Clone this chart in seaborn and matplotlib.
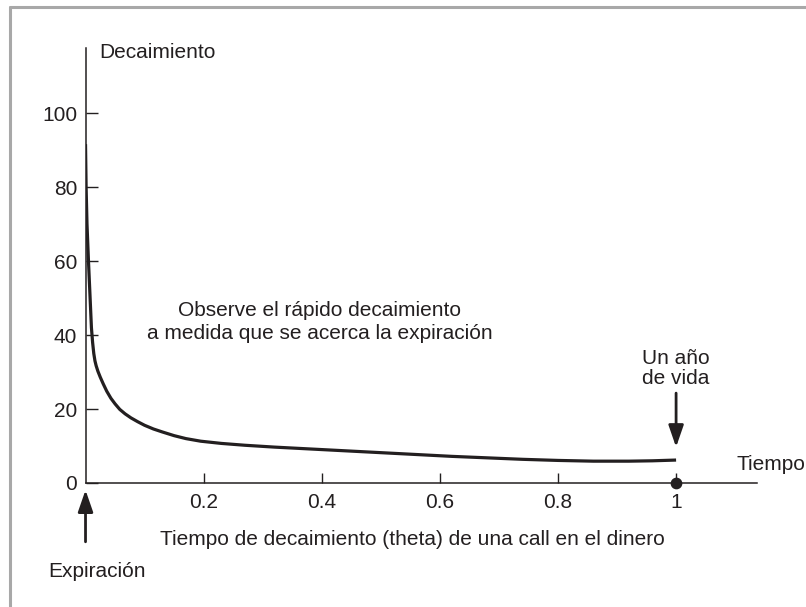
import matplotlib
matplotlib.use("Agg")
import matplotlib.pyplot as plt
import seaborn as sns
import pandas as pd

# ---- data ----
tiempo = [0.0, 0.001, 0.0025, 0.005, 0.0075, 0.01, 0.012, 0.014, 0.016,
          0.018, 0.021, 0.025, 0.03, 0.036, 0.043, 0.05, 0.058, 0.067,
          0.077, 0.088, 0.1, 0.115, 0.13, 0.15, 0.17, 0.195, 0.23, 0.27,
          0.32, 0.38, 0.44, 0.5, 0.56, 0.62, 0.68, 0.74, 0.8, 0.86, 0.92,
          0.96, 1.0]
decaimiento = [91.6, 80, 70, 60, 51, 42, 38, 35, 33,
               31.7, 30.2, 28.6, 26.8, 24.8, 22.9, 21.4, 19.9, 18.7,
               17.6, 16.6, 15.6, 14.6, 13.8, 12.8, 12.0, 11.3, 10.7, 10.2,
               9.7, 9.2, 8.7, 8.2, 7.7, 7.2, 6.8, 6.4, 6.1, 5.9, 5.9,
               6.0, 6.2]
y_ticks = [0, 20, 40, 60, 80, 100]
x_ticks = [0.2, 0.4, 0.6, 0.8, 1.0]
x_tick_labels = ["0.2", "0.4", "0.6", "0.8", "1"]
punto_x = [1.0]
punto_y = [0.0]

df = pd.DataFrame({"tiempo": tiempo, "decaimiento": decaimiento})

sns.set_theme(style="white")
plt.rcParams["font.family"] = ["Liberation Sans", "DejaVu Sans"]
INK = "#231f20"

fig = plt.figure(figsize=(8.06, 6.07), dpi=100)
ax = fig.add_axes([0.1061, 0.2043, 0.8331, 0.7166])

sns.lineplot(data=df, x="tiempo", y="decaimiento", ax=ax, color=INK,
             linewidth=2.3, sort=False)
for ln in ax.lines:
    ln.set_solid_joinstyle("round")
    ln.set_solid_capstyle("butt")
ax.scatter(punto_x, punto_y, s=55, color=INK, zorder=5, clip_on=False)

ax.set_xlim(0, 1.137)
ax.set_ylim(0, 117.6)
ax.set_xlabel("")
ax.set_ylabel("")

for s in ["top", "right"]:
    ax.spines[s].set_visible(False)
for s in ["left", "bottom"]:
    ax.spines[s].set_color(INK)
    ax.spines[s].set_linewidth(1.1)

ax.set_yticks(y_ticks)
ax.set_yticklabels([str(v) for v in y_ticks])
ax.set_xticks(x_ticks)
ax.set_xticklabels(x_tick_labels)
ax.tick_params(axis="y", direction="in", length=8.3, width=1, colors=INK,
               labelsize=15, pad=6, left=True)
ax.tick_params(axis="x", direction="in", length=7.2, width=1, colors=INK,
               labelsize=15, pad=7, bottom=True)

fs = 15
ax.text(0.0229, 116.5, "Decaimiento", fontsize=fs, color=INK,
        ha="left", va="center", clip_on=False)
ax.text(0.397, 43.5,
        "Observe el rápido decaimiento\na medida que se acerca la expiración",
        fontsize=fs, color=INK, ha="center", va="center",
        multialignment="center", linespacing=1.3)
ax.text(1.0, 31.0, "Un año\nde vida", fontsize=fs, color=INK, ha="center",
        va="center", multialignment="center", linespacing=1.1)
ax.text(1.103, 4.9, "Tiempo", fontsize=fs, color=INK, ha="left",
        va="center", clip_on=False)
ax.text(0.553, -15.2, "Tiempo de decaimiento (theta) de una call en el dinero",
        fontsize=fs, color=INK, ha="center", va="center", clip_on=False)
ax.text(-0.0635, -24.0, "Expiración", fontsize=fs, color=INK, ha="left",
        va="center", clip_on=False)

arrow = dict(arrowstyle="-|>,head_length=1.1,head_width=0.38", color=INK,
             lw=2, shrinkA=0, shrinkB=0)
ax.annotate("", xy=(1.0, 9.7), xytext=(1.0, 24.3), arrowprops=arrow,
            annotation_clip=False)
ax.annotate("", xy=(0.0, -1.9), xytext=(0.0, -15.9), arrowprops=arrow,
            annotation_clip=False)

# grey frame (top and left edges)
frame = "#a8a8a8"
fig.add_artist(plt.Line2D([0.0124, 1.0], [0.9885, 0.9885], color=frame,
                          lw=2.2, transform=fig.transFigure))
fig.add_artist(plt.Line2D([0.0124, 0.0124], [0.0, 0.9885], color=frame,
                          lw=2.2, transform=fig.transFigure))

fig.savefig("out.png", dpi=100)
